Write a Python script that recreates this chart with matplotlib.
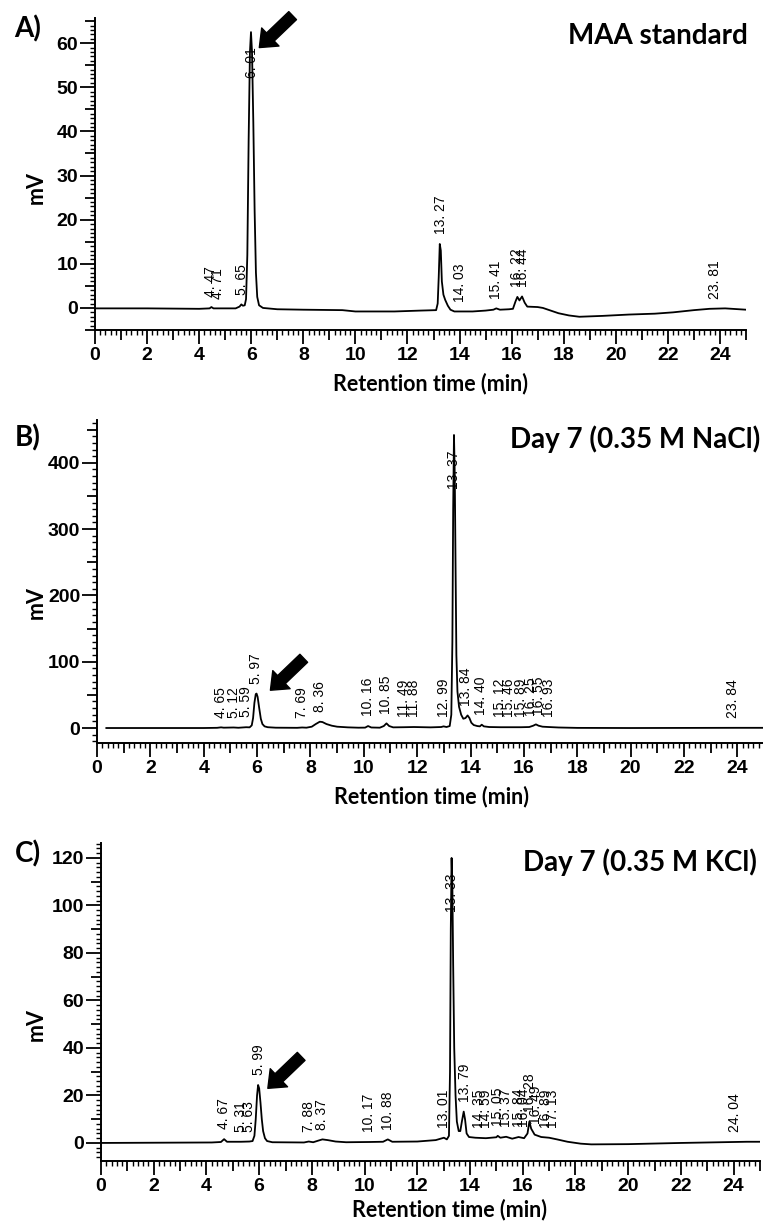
import numpy as np
import matplotlib
matplotlib.use('Agg')
import matplotlib.pyplot as plt
from matplotlib.ticker import MultipleLocator, FuncFormatter
from matplotlib import font_manager as fm

# ---------------- data ----------------
# Panel A: MAA standard
a_time = [0.0, 2.0, 4.0, 4.4, 4.47, 4.55, 5.4, 5.55, 5.62, 5.68, 5.75, 5.80, 5.85, 5.90,
          5.95, 5.99, 6.03, 6.08, 6.13, 6.18, 6.23, 6.30, 6.45, 7.0, 8.0, 9.5, 10.0, 11.5,
          12.5, 13.10, 13.16, 13.20, 13.24, 13.28, 13.32, 13.38, 13.45, 13.55, 13.65, 13.8,
          14.5, 15.0, 15.3, 15.41, 15.55, 15.9, 16.05, 16.15, 16.22, 16.30, 16.40, 16.50,
          16.60, 17.0, 17.2, 17.5, 17.8, 18.2, 18.6, 19.5, 20.5, 21.5, 22.2, 23.0, 23.6,
          24.2, 25.0]
a_mv = [-0.1, -0.1, -0.2, -0.1, 0.2, -0.1, -0.1, 0.3, 0.8, 0.5, 0.6, 2.0, 12.0, 38.0,
        58.0, 62.5, 58.0, 42.0, 22.0, 8.0, 2.5, 0.6, 0.0, -0.3, -0.4, -0.5, -0.8, -0.8,
        -0.6, -0.5, 1.0, 7.0, 14.5, 13.0, 6.0, 3.0, 1.8, 0.5, -0.4, -0.8,
        -0.8, -0.6, -0.4, -0.1, -0.4, -0.3, -0.2, 1.5, 2.5, 1.7, 2.6, 1.2,
        0.3, 0.2, 0.0, -0.6, -1.2, -1.7, -2.0, -1.8, -1.5, -1.3, -1.0, -0.5, -0.2,
        -0.1, -0.4]
a_peaks = [4.47, 4.71, 5.65, 6.01, 13.27, 14.03, 15.41, 16.22, 16.44, 23.81]

# Panel B: Day 7 (0.35 M NaCl)
b_time = [0.35, 4.0, 4.5, 4.65, 4.75, 5.12, 5.3, 5.59, 5.72, 5.80, 5.85, 5.90, 5.95, 5.98,
          6.02, 6.08, 6.14, 6.20, 6.28, 6.4, 6.7, 7.5, 7.69, 7.85, 8.05, 8.2, 8.35, 8.45,
          8.6, 8.8, 9.0, 9.4, 9.8, 10.05, 10.16, 10.28, 10.6, 10.75, 10.85, 10.95, 11.1,
          11.49, 11.88, 12.5, 12.9, 12.99, 13.1, 13.22, 13.28, 13.32, 13.35, 13.38, 13.41,
          13.44, 13.47, 13.51, 13.57, 13.65, 13.73, 13.81, 13.89, 13.96, 14.03, 14.12,
          14.25, 14.35, 14.42, 14.50, 14.7, 15.12, 15.46, 15.89, 16.2, 16.35, 16.45, 16.55,
          16.7, 16.93, 17.3, 18.0, 20.0, 24.0, 25.0]
b_mv = [0.0, 0.0, 0.3, 1.0, 0.5, 0.8, 0.4, 1.2, 1.0, 4.0, 15.0, 38.0, 51.0, 52.0,
        47.0, 30.0, 14.0, 6.0, 2.5, 1.2, 0.5, 0.3, 0.8, 0.5, 2.0, 6.0, 9.5, 9.0,
        6.0, 3.5, 2.0, 1.0, 0.5, 0.6, 3.0, 0.8, 0.5, 3.0, 7.0, 3.0, 1.0,
        1.2, 1.5, 1.0, 1.5, 2.5, 1.5, 3.0, 20.0, 130.0, 330.0, 442.0, 380.0,
        240.0, 110.0, 55.0, 32.0, 20.0, 14.0, 15.0, 19.0, 15.0, 8.0, 4.5,
        3.0, 2.5, 5.0, 2.5, 1.5, 1.2, 1.2, 1.2, 1.5, 3.5, 5.5, 3.5,
        2.0, 1.5, 0.8, 0.2, 0.0, 0.3, 0.3]
b_peaks = [4.65, 5.12, 5.59, 5.97, 7.69, 8.36, 10.16, 10.85, 11.49, 11.88, 12.99, 13.37,
           13.84, 14.40, 15.12, 15.46, 15.89, 16.25, 16.55, 16.93, 23.84]

# Panel C: Day 7 (0.35 M KCl)
c_time = [0.0, 4.2, 4.55, 4.67, 4.78, 5.31, 5.63, 5.75, 5.82, 5.87, 5.92, 5.96, 6.00,
          6.05, 6.10, 6.15, 6.22, 6.30, 6.5, 7.7, 7.88, 8.05, 8.25, 8.4, 8.6, 8.9, 9.3,
          10.17, 10.7, 10.88, 11.05, 12.0, 12.7, 13.01, 13.12, 13.20, 13.24, 13.27, 13.30,
          13.33, 13.36, 13.40, 13.45, 13.50, 13.57, 13.63, 13.69, 13.76, 13.81, 13.87,
          13.96, 14.2, 14.6, 15.0, 15.05, 15.15, 15.37, 15.6, 15.84, 16.05, 16.18, 16.25,
          16.32, 16.45, 16.7, 17.0, 17.3, 17.7, 18.2, 18.6, 20.0, 22.0, 23.5, 24.5, 25.0]
c_mv = [0.0, 0.2, 0.4, 1.6, 0.5, 0.5, 0.6, 0.8, 3.0, 10.0, 20.0, 24.4, 23.0,
        17.0, 10.0, 5.0, 2.0, 0.8, 0.3, 0.2, 0.6, 0.3, 1.0, 1.5, 1.2, 0.6, 0.3,
        0.4, 0.5, 1.5, 0.5, 0.6, 1.2, 2.2, 1.5, 3.0, 30.0, 90.0, 120.0,
        108.0, 75.0, 40.0, 20.0, 9.0, 5.0, 5.0, 9.0, 13.2, 10.0, 4.0,
        2.5, 2.2, 2.0, 2.4, 3.0, 2.2, 2.6, 1.8, 2.5, 2.0, 4.0, 9.0,
        6.0, 3.5, 2.5, 2.2, 1.5, 0.5, -0.3, -0.6, -0.5, 0.0, 0.3, 0.5, 0.5]
c_peaks = [4.67, 5.31, 5.63, 5.99, 7.88, 8.37, 10.17, 10.88, 13.01, 13.33, 13.79, 14.35,
           14.59, 15.05, 15.37, 15.84, 16.04, 16.28, 16.49, 16.89, 17.13, 24.04]

panel_letters = ["A)", "B)", "C)"]
panel_titles = ["MAA standard", "Day 7 (0.35 M NaCl)", "Day 7 (0.35 M KCl)"]
arrow_tips = [(6.31, 59.0), (6.50, 57.0), (6.33, 23.0)]   # (min, mV)
y_limits = [(-5, 65.7), (-22.6, 464.6), (-7.6, 126.3)]
y_steps = [(10, 5, 1), (100, 50, 10), (20, 10, 2)]       # labelled, medium, minor

# ---------------- styling ----------------
W, H = 763, 1231
fig = plt.figure(figsize=(W / 100, H / 100), dpi=100)

names = {f.name for f in fm.fontManager.ttflist}
narrow = 'Liberation Sans Narrow' if 'Liberation Sans Narrow' in names else 'Liberation Sans'
head_font = 'Lato' if 'Lato' in names else 'DejaVu Sans'

def fx(px):
    return px / W

def fy(py):
    return 1 - py / H

# axes boxes in pixels: left, top, right, bottom
boxes = [(95, 18, 746, 330), (97, 420, 764, 743), (101, 843, 760, 1161)]
xlabel_pos = [(430, 384), (432, 797), (450, 1210)]
mv_pos = [(36, 188), (36, 603), (36, 1025)]
letter_pos = [(28, 29), (28, 438), (28, 854)]
title_pos = [(748, 36), (760, 439), (757, 862)]

traces = [(a_time, a_mv, a_peaks), (b_time, b_mv, b_peaks), (c_time, c_mv, c_peaks)]

for i, (tt, vv, pk) in enumerate(traces):
    l, t, r, b = boxes[i]
    ax = fig.add_axes([fx(l), fy(b), fx(r) - fx(l), fy(t) - fy(b)])
    ax.plot(tt, vv, color='black', lw=1.3, solid_joinstyle='round')
    ax.set_xlim(0, 25)
    ax.set_ylim(*y_limits[i])
    for s in ('top', 'right'):
        ax.spines[s].set_visible(False)
    for s in ('left', 'bottom'):
        ax.spines[s].set_linewidth(1.4)

    big, med, mnr = y_steps[i]
    # x ticks: labels every 2, medium every 1, minor every 0.2
    ax.xaxis.set_major_locator(MultipleLocator(1))
    ax.xaxis.set_minor_locator(MultipleLocator(0.2))
    ax.xaxis.set_major_formatter(FuncFormatter(
        lambda v, p: f"{int(round(v))}" if int(round(v)) % 2 == 0 else ""))
    ax.yaxis.set_major_locator(MultipleLocator(med))
    ax.yaxis.set_minor_locator(MultipleLocator(mnr))
    ax.yaxis.set_major_formatter(FuncFormatter(
        lambda v, p, big=big: f"{int(round(v))}" if abs(v / big - round(v / big)) < 1e-6 else ""))
    ax.tick_params(which='major', direction='out', length=7, width=1.3, pad=5,
                   labelsize=14)
    ax.tick_params(which='minor', direction='out', length=3.5, width=1.0)
    for lab in ax.get_xticklabels() + ax.get_yticklabels():
        lab.set_fontfamily(narrow)
        lab.set_fontweight('bold')

    xlocs = ax.xaxis.get_majorticklocs()
    for loc, tk in zip(xlocs, ax.xaxis.get_major_ticks(len(xlocs))):
        if int(round(loc)) % 2 == 0:
            tk.tick1line.set_markersize(10)
    ylocs = ax.yaxis.get_majorticklocs()
    for loc, tk in zip(ylocs, ax.yaxis.get_major_ticks(len(ylocs))):
        if abs(loc / big - round(loc / big)) < 1e-6:
            tk.tick1line.set_markersize(11)

    # peak retention-time labels
    ytop = y_limits[i][1]
    for p in pk:
        grid = np.linspace(p - 0.05, p + 0.05, 11)
        h = float(np.max(np.interp(grid, tt, vv)))
        txt = f"{p:.2f}".replace('.', '. ')
        if h > 0.8 * ytop:
            ax.annotate(txt, (p, h), xytext=(0, -11), textcoords='offset points',
                        rotation=90, ha='center', va='top', fontsize=10,
                        family=[narrow, 'DejaVu Sans'], annotation_clip=False)
        else:
            ax.annotate(txt, (p, h), xytext=(0, 7), textcoords='offset points',
                        rotation=90, ha='center', va='bottom', fontsize=10,
                        family=[narrow, 'DejaVu Sans'], annotation_clip=False)

    # arrow pointing at the MAA peak
    ax.annotate('', xy=arrow_tips[i], xytext=(24, 23), textcoords='offset points',
                arrowprops=dict(arrowstyle='simple,head_length=0.55,head_width=0.9,tail_width=0.4',
                                fc='black', ec='black', mutation_scale=20, shrinkA=0, shrinkB=0),
                annotation_clip=False)

    # texts
    fig.text(fx(xlabel_pos[i][0]), fy(xlabel_pos[i][1]), "Retention time (min)",
             ha='center', va='center', fontsize=15.5, fontweight='bold', family=head_font)
    fig.text(fx(mv_pos[i][0]), fy(mv_pos[i][1]), "mV", rotation=90,
             ha='center', va='center', fontsize=15.5, fontweight='bold', family=head_font)
    fig.text(fx(letter_pos[i][0]), fy(letter_pos[i][1]), panel_letters[i],
             ha='center', va='center', fontsize=20, fontweight='bold', family=head_font)
    fig.text(fx(title_pos[i][0]), fy(title_pos[i][1]), panel_titles[i],
             ha='right', va='center', fontsize=20, fontweight='bold', family=head_font)

fig.savefig('out.png', dpi=100)
